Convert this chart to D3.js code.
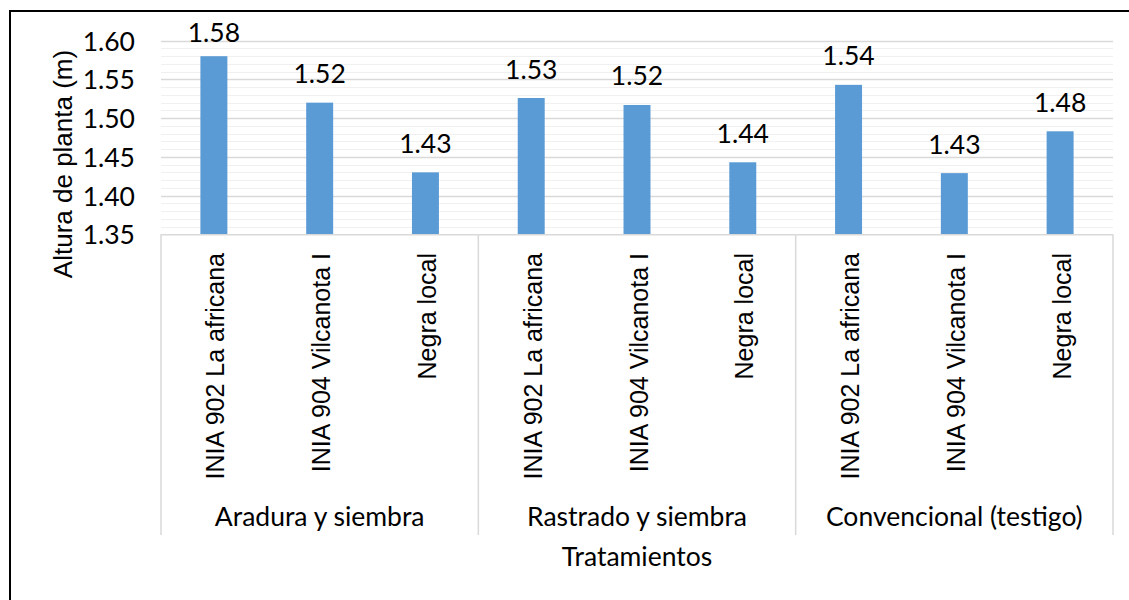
<!DOCTYPE html>
<html>
<head>
<meta charset="utf-8">
<script src="https://cdn.jsdelivr.net/npm/d3@7"></script>
<style>
  html, body { margin: 0; padding: 0; background: #fff; }
  svg { display: block; }
</style>
</head>
<body>
<svg id="chart" width="1129" height="600"></svg>
<script>
// Treatments (outer axis level) and varieties (inner axis level)
const groups = ["Aradura y siembra", "Rastrado y siembra", "Convencional (testigo)"];
const varieties = ["INIA 902 La africana", "INIA 904 Vilcanota I", "Negra local"];
// Plant height (m), one value per treatment × variety, in group order
const heights = [1.580, 1.520, 1.430, 1.526, 1.517, 1.443, 1.543, 1.429, 1.483];
const yTicks = [1.35, 1.40, 1.45, 1.50, 1.55, 1.60];
const yTitle = "Altura de planta (m)";
const xTitle = "Tratamientos";

const rows = [];
groups.forEach((g, gi) => varieties.forEach((v, vi) => {
  rows.push({ key: g + "|" + v, group: g, variety: v, value: heights[gi * varieties.length + vi] });
}));

const svg = d3.select("#chart");
const plot = { left: 161, right: 1113, top: 40.7, bottom: 234.3 };
const calibriLike = "Lato, sans-serif";
const arialLike = "'Liberation Sans', Arial, sans-serif";
const labelSize = "26.5px";

const x = d3.scaleBand()
  .domain(rows.map(d => d.key))
  .range([plot.left, plot.right])
  .paddingInner(0.745)
  .paddingOuter(0.3725);

const groupX = d3.scaleBand()
  .domain(groups)
  .range([plot.left, plot.right]);

const y = d3.scaleLinear()
  .domain([1.35, 1.60])
  .range([plot.bottom, plot.top]);

// chart frame
svg.append("rect")
  .attr("x", 10).attr("y", 11)
  .attr("width", 1130).attr("height", 600)
  .attr("fill", "none").attr("stroke", "#000").attr("stroke-width", 2);

// minor gridlines every 0.01
const minor = d3.range(136, 160).map(i => i / 100).filter(v => Math.round(v * 100) % 5 !== 0);
svg.append("g")
  .selectAll("line").data(minor).join("line")
  .attr("x1", plot.left).attr("x2", plot.right)
  .attr("y1", d => Math.round(y(d)) + 0.5).attr("y2", d => Math.round(y(d)) + 0.5)
  .attr("stroke", "#f0f0f0").attr("stroke-width", 1);

// major gridlines
svg.append("g")
  .selectAll("line").data(yTicks.slice(1)).join("line")
  .attr("x1", plot.left).attr("x2", plot.right)
  .attr("y1", d => Math.round(y(d)) + 0.5).attr("y2", d => Math.round(y(d)) + 0.5)
  .attr("stroke", "#d9d9d9").attr("stroke-width", 1.5);

// y axis labels
const yAxis = d3.axisLeft(y).tickValues(yTicks).tickFormat(d3.format(".2f")).tickSize(0).tickPadding(0);
const yg = svg.append("g").attr("transform", "translate(135,0)").call(yAxis);
yg.select(".domain").remove();
yg.selectAll("text")
  .attr("font-family", calibriLike)
  .attr("font-size", labelSize)
  .attr("fill", "#000")
  .attr("dy", "0.36em");

// bars
svg.append("g")
  .selectAll("rect").data(rows).join("rect")
  .attr("x", d => x(d.key))
  .attr("width", x.bandwidth())
  .attr("y", d => y(d.value))
  .attr("height", d => y(1.35) - y(d.value))
  .attr("fill", "#5b9bd5");

// value labels (kept inside the chart's top edge)
svg.append("g")
  .selectAll("text").data(rows).join("text")
  .attr("x", d => x(d.key) + x.bandwidth() / 2)
  .attr("y", d => Math.max(y(d.value) - 19.5, y(1.60) + 1))
  .attr("text-anchor", "middle")
  .attr("font-family", calibriLike)
  .attr("font-size", labelSize)
  .attr("fill", "#000")
  .text(d => d.value.toFixed(2));

// category axis line
svg.append("line")
  .attr("x1", plot.left).attr("x2", plot.right)
  .attr("y1", plot.bottom + 0.5).attr("y2", plot.bottom + 0.5)
  .attr("stroke", "#d9d9d9").attr("stroke-width", 1.5);

// group separators
const seps = groups.map(g => groupX(g)).concat([plot.right]);
svg.append("g")
  .selectAll("line").data(seps).join("line")
  .attr("x1", d => d).attr("x2", d => d)
  .attr("y1", plot.bottom).attr("y2", 535)
  .attr("stroke", "#d9d9d9").attr("stroke-width", 1.5);

// variety labels, rotated
svg.append("g")
  .selectAll("text").data(rows).join("text")
  .attr("transform", d => `translate(${x(d.key) + x.bandwidth() / 2 + 1.5},253) rotate(-90)`)
  .attr("text-anchor", "end")
  .attr("dy", "0.36em")
  .attr("font-family", arialLike)
  .attr("font-size", "25px")
  .attr("fill", "#000")
  .text(d => d.variety);

// treatment labels
svg.append("g")
  .selectAll("text").data(groups).join("text")
  .attr("x", d => groupX(d) + groupX.bandwidth() / 2)
  .attr("y", 526)
  .attr("text-anchor", "middle")
  .attr("font-family", calibriLike)
  .attr("font-size", labelSize)
  .attr("fill", "#000")
  .text(d => d);

// axis titles
svg.append("text")
  .attr("x", (plot.left + plot.right) / 2)
  .attr("y", 566)
  .attr("text-anchor", "middle")
  .attr("font-family", calibriLike)
  .attr("font-size", labelSize)
  .attr("fill", "#000")
  .text(xTitle);

svg.append("text")
  .attr("transform", "translate(72,164) rotate(-90)")
  .attr("text-anchor", "middle")
  .attr("font-family", arialLike)
  .attr("font-size", "26px")
  .attr("fill", "#000")
  .text(yTitle);
</script>
</body>
</html>
